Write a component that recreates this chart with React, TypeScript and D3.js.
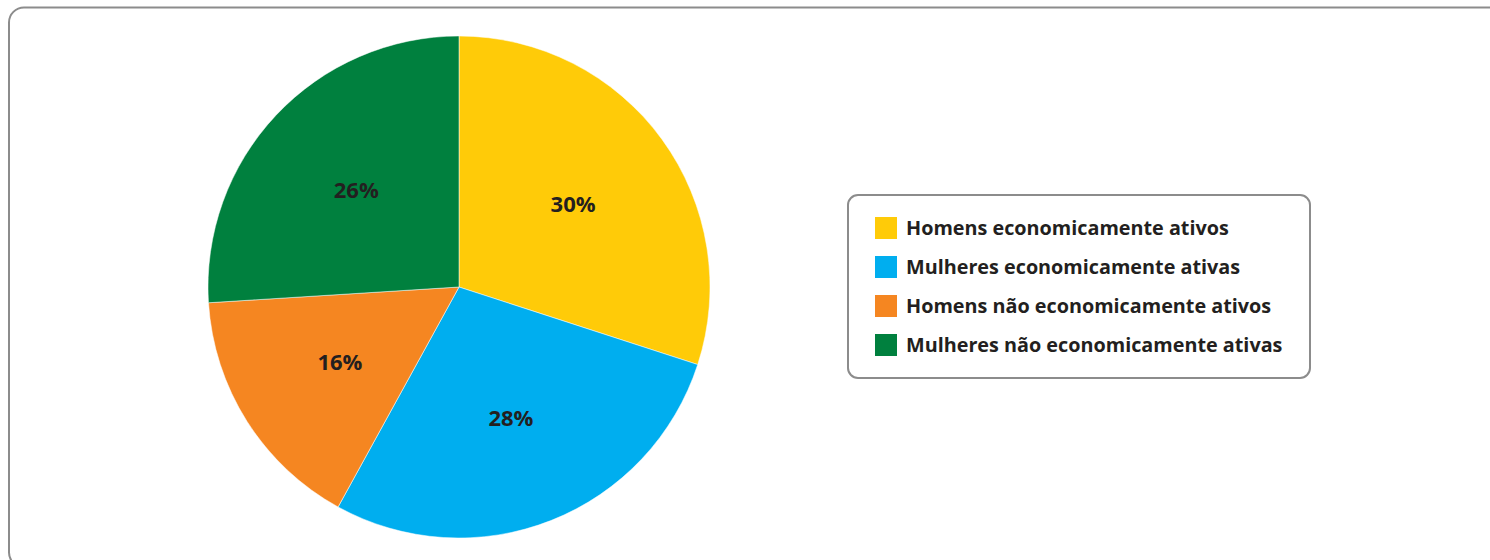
import React, { Component } from 'react';
import * as d3 from 'd3';

// chart data
const categories = [
    'Homens economicamente ativos',
    'Mulheres economicamente ativas',
    'Homens não economicamente ativos',
    'Mulheres não economicamente ativas'
];
const values = [30, 28, 16, 26];
const colors = ['#FFCB08', '#00AEEF', '#F58621', '#00803E'];

class PieChart extends Component {

    // global variables for chart
    width = 1490;
    height = 560;
    cx = 459;
    cy = 287;
    radius = 251;
    font = '"Open Sans", "DejaVu Sans", sans-serif';
    node: any = null;

    componentDidMount() {
        this.initPieChart();
    }

    initPieChart() {
        const svg = d3.select(this.node)
            .append('svg')
            .attr('width', this.width)
            .attr('height', this.height)
            .style('position', 'absolute')
            .style('left', 0)
            .style('top', 0)
            .style('background', '#fff');

        // outer frame, runs off the right and bottom edges
        svg.append('rect')
            .attr('x', 9)
            .attr('y', 7.5)
            .attr('width', 1510)
            .attr('height', 560)
            .attr('rx', 15)
            .attr('fill', 'none')
            .attr('stroke', '#8c8c8c')
            .attr('stroke-width', 2);

        const pie = d3.pie<number>().sort(null).value(d => d);
        const arcs = pie(values);
        const arc = d3.arc<d3.PieArcDatum<number>>().innerRadius(0).outerRadius(this.radius);
        // labels sit a little past the middle of each slice
        const labelArc = d3.arc<d3.PieArcDatum<number>>().innerRadius(141).outerRadius(141);

        const g = svg.append('g')
            .attr('transform', 'translate(' + this.cx + ',' + this.cy + ')');

        g.selectAll('.slice')
            .data(arcs)
            .enter().append('path')
            .attr('class', 'slice')
            .attr('d', arc)
            .attr('fill', (d, i) => colors[i])
            .attr('stroke', '#fff')
            .attr('stroke-width', 0.5);

        g.selectAll('.label')
            .data(arcs)
            .enter().append('text')
            .attr('class', 'label')
            .attr('transform', d => 'translate(' + labelArc.centroid(d) + ')')
            .attr('text-anchor', 'middle')
            .attr('dy', '0.35em')
            .style('font-family', this.font)
            .style('font-size', '22px')
            .style('font-weight', 'bold')
            .attr('fill', '#231f20')
            .text(d => d.data + '%');

        // legend
        const legend = svg.append('g')
            .attr('transform', 'translate(848,195)');

        legend.append('rect')
            .attr('width', 462)
            .attr('height', 183)
            .attr('rx', 10)
            .attr('fill', '#fff')
            .attr('stroke', '#8c8c8c')
            .attr('stroke-width', 2);

        const rows = legend.selectAll('.legend-row')
            .data(categories)
            .enter().append('g')
            .attr('class', 'legend-row')
            .attr('transform', (d, i) => 'translate(27,' + (22 + i * 39) + ')');

        rows.append('rect')
            .attr('width', 22)
            .attr('height', 22)
            .attr('fill', (d, i) => colors[i]);

        rows.append('text')
            .attr('x', 31)
            .attr('y', 18)
            .style('font-family', this.font)
            .style('font-size', '19.8px')
            .style('font-weight', 'bold')
            .attr('fill', '#231f20')
            .text(d => d);
    }

    render() {
        return <div ref={node => { this.node = node; }}></div>;
    }
}

export default function App() {
    return <PieChart />;
}
